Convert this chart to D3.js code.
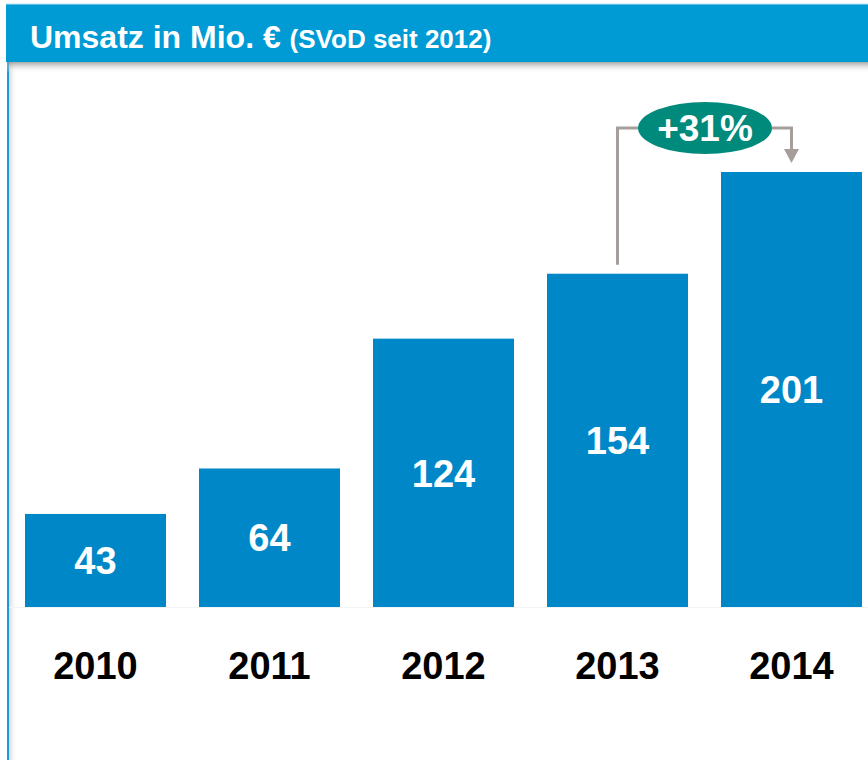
<!DOCTYPE html>
<html><head><meta charset="utf-8">
<script src="https://cdn.jsdelivr.net/npm/d3@7"></script>
<style>html,body{margin:0;padding:0;background:#fff;overflow:hidden}</style>
</head><body>
<script>
const years = ["2010","2011","2012","2013","2014"];
const values = [43, 64, 124, 154, 201];
const titleMain = "Umsatz in Mio. €";
const titleSub = "(SVoD seit 2012)";
const growthLabel = "+31%";
const growthFrom = "2013", growthTo = "2014";

const W = 868, H = 760;
const svg = d3.select("body").append("svg").attr("width", W).attr("height", H)
  .style("font-family", "'Liberation Sans', Arial, sans-serif");
const defs = svg.append("defs");
const gv = defs.append("linearGradient").attr("id","shv").attr("x1",0).attr("y1",0).attr("x2",0).attr("y2",1);
gv.append("stop").attr("offset","0").attr("stop-color","#8a8a8a").attr("stop-opacity",0.75);
gv.append("stop").attr("offset","1").attr("stop-color","#ffffff").attr("stop-opacity",0);
const gh = defs.append("linearGradient").attr("id","shh").attr("x1",0).attr("y1",0).attr("x2",1).attr("y2",0);
gh.append("stop").attr("offset","0").attr("stop-color","#bbbbbb").attr("stop-opacity",0.6);
gh.append("stop").attr("offset","1").attr("stop-color","#ffffff").attr("stop-opacity",0);

// frame
svg.append("rect").attr("x",9).attr("y",62).attr("width",8).attr("height",H-62).attr("fill","url(#shh)");
svg.append("rect").attr("x",7).attr("y",62).attr("width",2).attr("height",H-62).attr("fill","#1a9ad6");
svg.append("rect").attr("x",7).attr("y",62).attr("width",W-7).attr("height",11).attr("fill","url(#shv)");
svg.append("rect").attr("x",6).attr("y",4).attr("width",W-6).attr("height",58).attr("fill","#009bd4");
svg.append("line").attr("x1",6).attr("x2",W).attr("y1",4).attr("y2",4).attr("stroke","#bfe3f3").attr("stroke-width",1);

const title = svg.append("text").attr("x",30).attr("y",48).attr("fill","#fff").attr("font-weight","bold");
title.append("tspan").attr("font-size",32).text(titleMain + " ");
title.append("tspan").attr("font-size",26).text(titleSub);

// scales
const baseY = 607;
const x = d3.scaleBand().domain(years).range([25, 862]).paddingInner(33/174).paddingOuter(0);
const y = d3.scaleLinear().domain([0, 201]).range([baseY, 172]);
const bw = x.bandwidth();

// faint baseline
svg.append("line").attr("x1",9).attr("x2",W).attr("y1",baseY+0.5).attr("y2",baseY+0.5)
  .attr("stroke","#eef4f8").attr("stroke-width",1);

svg.selectAll("rect.bar").data(values).join("rect").attr("class","bar")
  .attr("x",(d,i)=>x(years[i])).attr("y",d=>y(d)).attr("width",bw)
  .attr("height",d=>baseY-y(d)).attr("fill","#0087c8");

svg.selectAll("text.val").data(values).join("text").attr("class","val")
  .attr("x",(d,i)=>x(years[i])+bw/2).attr("y",d=>(y(d)+baseY)/2)
  .attr("dy","0.36em").attr("text-anchor","middle").attr("fill","#fff")
  .attr("font-weight","bold").attr("font-size",38).text(d=>d);

svg.selectAll("text.yr").data(years).join("text").attr("class","yr")
  .attr("x",d=>x(d)+bw/2).attr("y",665).attr("dy","0.36em").attr("text-anchor","middle")
  .attr("fill","#000").attr("font-weight","bold").attr("font-size",38).text(d=>d);

// growth annotation
const i0 = years.indexOf(growthFrom), i1 = years.indexOf(growthTo);
const cx = 705, cy = 128, rx = 67, ry = 26;
const xl = x(growthFrom) + bw/2, xr = x(growthTo) + bw/2;
const gray = "#a59e9b";
svg.append("path").attr("d",`M${xl},${y(values[i0])-9}V${cy}H${cx-rx}`)
  .attr("fill","none").attr("stroke",gray).attr("stroke-width",3);
svg.append("path").attr("d",`M${cx+rx},${cy}H${xr}V${150}`)
  .attr("fill","none").attr("stroke",gray).attr("stroke-width",3);
svg.append("path").attr("d",`M${xr-7.5},149L${xr+7.5},149L${xr},${y(values[i1])-9}Z`).attr("fill",gray);
svg.append("ellipse").attr("cx",cx).attr("cy",cy).attr("rx",rx).attr("ry",ry).attr("fill","#008a7c");
svg.append("text").attr("x",cx).attr("y",cy).attr("dy","0.36em").attr("text-anchor","middle")
  .attr("fill","#fff").attr("font-weight","bold").attr("font-size",37).text(growthLabel);
</script>
</body></html>
